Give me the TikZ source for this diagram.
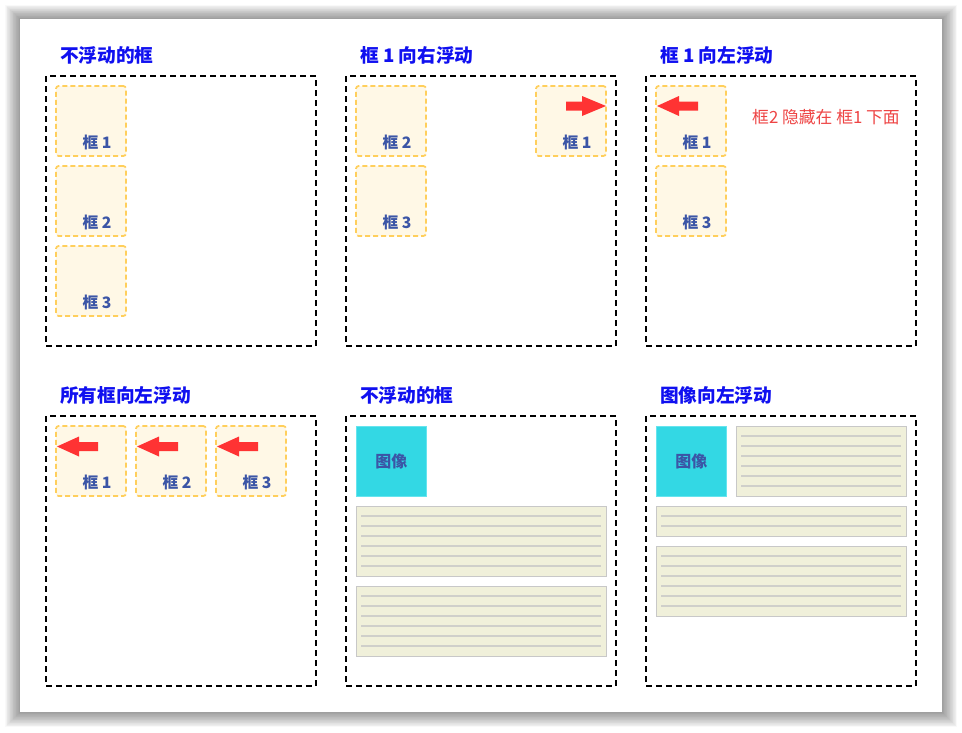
\documentclass[tikz,border=0pt]{standalone}
\usepackage{fontspec}
\setmainfont{Noto Sans CJK SC}
\definecolor{ttlblue}{HTML}{1010F0}
\definecolor{lblblue}{HTML}{3B55A6}
\definecolor{boxfill}{HTML}{FFF8E6}
\definecolor{boxedge}{HTML}{FFCF5C}
\definecolor{arrred}{HTML}{FF3333}
\definecolor{notered}{HTML}{EE4444}
\definecolor{imgcyan}{HTML}{33D8E4}
\definecolor{imgedge}{HTML}{66E4EE}
\definecolor{txtfill}{HTML}{F0F0DA}
\definecolor{txtedge}{HTML}{C8C8C8}
\definecolor{txtline}{HTML}{CFCFCA}
\newcommand\smbx[4]{% x y label name
  \node[sbox] (#4) at (#1,#2) {};
  \node[lbl] (#4l) at (#1+41,#2+56) {#3};}
\newcommand\tbx[5]{% x y w h name
  \node[tbox, minimum width=#3*0.75pt, minimum height=#4*0.75pt] (#5) at (#1,#2) {};
  \pgfmathtruncatemacro\nl{#4/10-1}
  \foreach \k in {1,...,\nl} \draw[tline] (#1+5,#2+10*\k) -- (#1+#3-5,#2+10*\k);}
\newcommand\larrow[2]{% tip x, y
  \fill[arrred] (#1,#2) -- (#1+22,#2-10) -- (#1+22,#2-4.5) -- (#1+41,#2-4.5) -- (#1+41,#2+4.5) -- (#1+22,#2+4.5) -- (#1+22,#2+10) -- cycle;}
\newcommand\rarrow[2]{% tip x, y
  \fill[arrred] (#1,#2) -- (#1-24,#2-10) -- (#1-24,#2-4.5) -- (#1-40,#2-4.5) -- (#1-40,#2+4.5) -- (#1-24,#2+4.5) -- (#1-24,#2+10) -- cycle;}
\begin{document}
\begin{tikzpicture}[x=0.75pt,y=-0.75pt,
  panel/.style={draw=black, line width=1.5pt, dash pattern=on 4.5pt off 3pt, inner sep=0pt, outer sep=0pt, anchor=north west, minimum width=202.5pt, minimum height=202.5pt},
  sbox/.style={draw=boxedge, fill=boxfill, line width=1.3pt, dash pattern=on 3.8pt off 2.2pt, rounded corners=2pt, inner sep=0pt, outer sep=0pt, anchor=north west, minimum width=52.5pt, minimum height=52.5pt},
  lbl/.style={font=\bfseries\fontsize{11.8pt}{13pt}\selectfont, text=lblblue, inner sep=0pt},
  ttl/.style={font=\bfseries\fontsize{14pt}{16pt}\selectfont, text=ttlblue, inner sep=0pt, anchor=west},
  img/.style={fill=imgcyan, draw=imgedge, line width=0.6pt, inner sep=0pt, anchor=north west, minimum width=52.5pt, minimum height=52.5pt, font=\bfseries\fontsize{12pt}{14pt}\selectfont, text=lblblue},
  tbox/.style={fill=txtfill, draw=txtedge, line width=0.8pt, inner sep=0pt, anchor=north west},
  tline/.style={draw=txtline, line width=0.8pt}]
\useasboundingbox (0,0) rectangle (962,732);
% card shadow
\foreach \i in {1,...,20}
  \fill[black, opacity=0.022] (20-0.75*\i,19-0.7*\i) rectangle (942+0.75*\i,712+0.75*\i);
\fill[white] (20,19) rectangle (942,712);
% titles
\node[ttl] (t1) at (60,55) {不浮动的框};
\node[ttl] (t2) at (360,55) {框 1 向右浮动};
\node[ttl] (t3) at (660,55) {框 1 向左浮动};
\node[ttl] (t4) at (60,395) {所有框向左浮动};
\node[ttl] (t5) at (360,395) {不浮动的框};
\node[ttl] (t6) at (660,395) {图像向左浮动};
% panels
\node[panel] (p1) at (46,76) {};
\node[panel] (p2) at (346,76) {};
\node[panel] (p3) at (646,76) {};
\node[panel] (p4) at (46,416) {};
\node[panel] (p5) at (346,416) {};
\node[panel] (p6) at (646,416) {};
% panel 1
\smbx{56}{86}{框 1}{a1}
\smbx{56}{166}{框 2}{a2}
\smbx{56}{246}{框 3}{a3}
% panel 2
\smbx{356}{86}{框 2}{b2}
\smbx{356}{166}{框 3}{b3}
\smbx{536}{86}{框 1}{b1}
\rarrow{606}{106}
% panel 3
\smbx{656}{86}{框 1}{c1}
\smbx{656}{166}{框 3}{c3}
\larrow{657}{106}
\node[font=\fontsize{12.6pt}{14pt}\selectfont, text=notered, inner sep=0pt] (note) at (826,117) {框2 隐藏在 框1 下面};
% panel 4
\smbx{56}{426}{框 1}{d1}
\smbx{136}{426}{框 2}{d2}
\smbx{216}{426}{框 3}{d3}
\larrow{57}{446.5}
\larrow{137}{446.5}
\larrow{217}{446.5}
% panel 5
\node[img] (e0) at (356,426) {图像};
\tbx{356}{506}{250}{70}{e1}
\tbx{356}{586}{250}{70}{e2}
% panel 6
\node[img] (f0) at (656,426) {图像};
\tbx{736}{426}{170}{70}{f1}
\tbx{656}{506}{250}{30}{f2}
\tbx{656}{546}{250}{70}{f3}
\end{tikzpicture}
\end{document}
